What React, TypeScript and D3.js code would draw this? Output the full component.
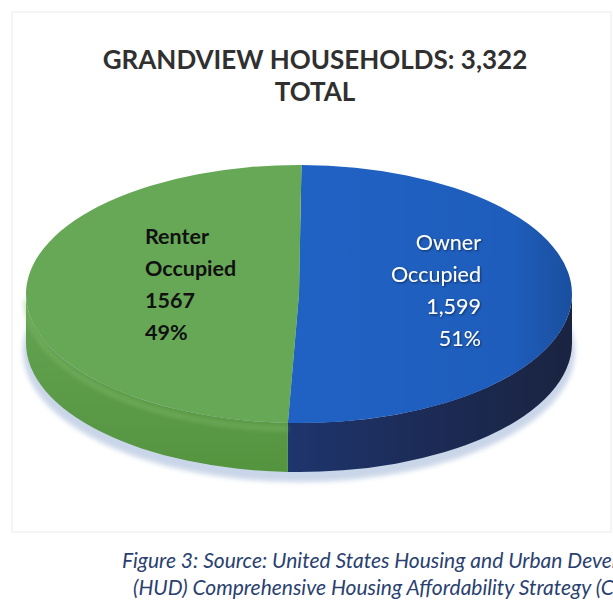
import React, { useRef, useEffect } from 'react';
import * as d3 from 'd3';

// chart data
const categories = ['Owner Occupied', 'Renter Occupied'];
const households = [1599, 1567];
const countLabels = ['1,599', '1567'];
const shareLabels = ['51%', '49%'];
const titleLines = ['GRANDVIEW HOUSEHOLDS: 3,322', 'TOTAL'];
const captionLines = [
    'Figure 3: Source: United States Housing and Urban Development',
    '(HUD) Comprehensive Housing Affordability Strategy (CHAS)',
];

const W = 613;
const H = 603;

const App = () => {
    const svgRef = useRef<SVGSVGElement>(null);

    useEffect(() => {
        const svg = d3.select(svgRef.current);
        svg.selectAll('*').remove();

        const cx = 299;
        const cy = 294;
        const rx = 273;
        const ry = 129;
        const depth = 49;

        const labelColor = ['#ffffff', '#111111'];

        const defs = svg.append('defs');

        const blueTop = defs.append('linearGradient').attr('id', 'blueTop')
            .attr('x1', '0%').attr('x2', '100%');
        blueTop.append('stop').attr('offset', '0%').attr('stop-color', '#2062c4');
        blueTop.append('stop').attr('offset', '80%').attr('stop-color', '#1e5dbb');
        blueTop.append('stop').attr('offset', '100%').attr('stop-color', '#1a4f9f');

        const blueSide = defs.append('linearGradient').attr('id', 'blueSide')
            .attr('gradientUnits', 'userSpaceOnUse')
            .attr('x1', cx - 30).attr('x2', cx + rx).attr('y1', 0).attr('y2', 0);
        blueSide.append('stop').attr('offset', '0%').attr('stop-color', '#1e3670');
        blueSide.append('stop').attr('offset', '55%').attr('stop-color', '#1c2b55');
        blueSide.append('stop').attr('offset', '100%').attr('stop-color', '#1a2340');

        const greenSide = defs.append('linearGradient').attr('id', 'greenSide')
            .attr('x1', '0%').attr('x2', '0%').attr('y1', '0%').attr('y2', '100%');
        greenSide.append('stop').attr('offset', '0%').attr('stop-color', '#64a453');
        greenSide.append('stop').attr('offset', '100%').attr('stop-color', '#55943f');

        defs.append('filter').attr('id', 'blur')
            .append('feGaussianBlur').attr('stdDeviation', 2.5);

        const ts = defs.append('filter').attr('id', 'txtShadow')
            .attr('x', '-10%').attr('y', '-20%').attr('width', '130%').attr('height', '150%');
        ts.append('feDropShadow').attr('dx', 1).attr('dy', 1).attr('stdDeviation', 0.8)
            .attr('flood-color', '#000').attr('flood-opacity', 0.5);

        // faint frame
        svg.append('rect')
            .attr('x', 12).attr('y', 12).attr('width', W - 14).attr('height', 520)
            .attr('fill', 'none').attr('stroke', '#f2f2f2').attr('stroke-width', 1.5);

        // title
        svg.append('g').selectAll('text')
            .data(titleLines)
            .enter().append('text')
            .attr('x', 315)
            .attr('y', (d, i) => 69 + i * 32)
            .attr('text-anchor', 'middle')
            .attr('font-family', 'Lato, "Open Sans", sans-serif')
            .attr('font-weight', 'bold')
            .attr('font-size', 26)
            .attr('fill', '#303030')
            .text(d => d);

        const start = 0.009;
        const pie = d3.pie<number>().sort(null).startAngle(start).endAngle(start + 2 * Math.PI);
        const arcs = pie(households);

        const px = (a: number) => cx + rx * Math.sin(a);
        const py = (a: number, dy = 0) => cy - ry * Math.cos(a) + dy;

        const topPath = (a0: number, a1: number) => {
            const large = a1 - a0 > Math.PI ? 1 : 0;
            return `M${cx},${cy}L${px(a0)},${py(a0)}A${rx},${ry} 0 ${large} 1 ${px(a1)},${py(a1)}Z`;
        };

        const sidePath = (a0: number, a1: number) => {
            // only the front half (pi/2 .. 3pi/2) is visible
            const s = Math.max(a0, Math.PI / 2);
            const e = Math.min(a1, 1.5 * Math.PI);
            if (e <= s) return null;
            const large = e - s > Math.PI ? 1 : 0;
            return `M${px(s)},${py(s)}A${rx},${ry} 0 ${large} 1 ${px(e)},${py(e)}` +
                `L${px(e)},${py(e, depth)}A${rx},${ry} 0 ${large} 0 ${px(s)},${py(s, depth)}Z`;
        };

        // shadow under the pie
        svg.append('ellipse')
            .attr('cx', cx).attr('cy', cy + depth + 8)
            .attr('rx', rx + 3).attr('ry', ry + 2)
            .attr('fill', '#c9d5e8')
            .attr('filter', 'url(#blur)');

        // sides
        const sideFill = ['url(#blueSide)', 'url(#greenSide)'];
        svg.append('g').selectAll('path')
            .data(arcs)
            .enter().append('path')
            .attr('d', d => sidePath(d.startAngle, d.endAngle) || '')
            .attr('fill', (d, i) => sideFill[i]);

        // edge highlight on the green side
        const g = arcs[1];
        const hs = Math.max(g.startAngle, Math.PI / 2);
        const he = Math.min(g.endAngle, 1.5 * Math.PI);
        svg.append('path')
            .attr('d', `M${px(hs)},${py(hs, 6)}A${rx},${ry} 0 0 1 ${px(he)},${py(he, 6)}`)
            .attr('fill', 'none')
            .attr('stroke', '#86c072')
            .attr('stroke-width', 3)
            .attr('opacity', 0.7)
            .attr('filter', 'url(#blur)');

        // tops
        const topFill = ['url(#blueTop)', '#67a857'];
        svg.append('g').selectAll('path')
            .data(arcs)
            .enter().append('path')
            .attr('d', d => topPath(d.startAngle, d.endAngle))
            .attr('fill', (d, i) => topFill[i]);

        // labels
        const labelSpec = [
            { x: cx + 182, y: 250, anchor: 'end', weight: 'normal' },
            { x: cx - 154, y: 244, anchor: 'start', weight: 'bold' },
        ];
        categories.forEach((c, i) => {
            const lines = [...c.split(' '), countLabels[i], shareLabels[i]];
            const spec = labelSpec[i];
            svg.append('g').selectAll('text')
                .data(lines)
                .enter().append('text')
                .attr('x', spec.x)
                .attr('y', (d, j) => spec.y + j * 32)
                .attr('text-anchor', spec.anchor)
                .attr('font-family', 'Lato, "Open Sans", sans-serif')
                .attr('font-weight', spec.weight)
                .attr('font-size', 21.5)
                .attr('fill', labelColor[i])
                .attr('filter', i === 0 ? 'url(#txtShadow)' : null)
                .text(d => d);
        });

        // caption (runs past the right edge, as in the source scan)
        svg.append('g').selectAll('text')
            .data(captionLines)
            .enter().append('text')
            .attr('x', (d, i) => (i === 0 ? 122 : 133))
            .attr('y', (d, i) => 568 + i * 27)
            .attr('font-family', 'Lato, "Open Sans", sans-serif')
            .attr('font-style', 'italic')
            .attr('font-size', 21)
            .attr('fill', '#2a4170')
            .text(d => d);
    }, []);

    return (
        <svg
            ref={svgRef}
            width={W}
            height={H}
            style={{ position: 'absolute', left: 0, top: 0, background: '#ffffff' }}
        />
    );
};

export default App;
